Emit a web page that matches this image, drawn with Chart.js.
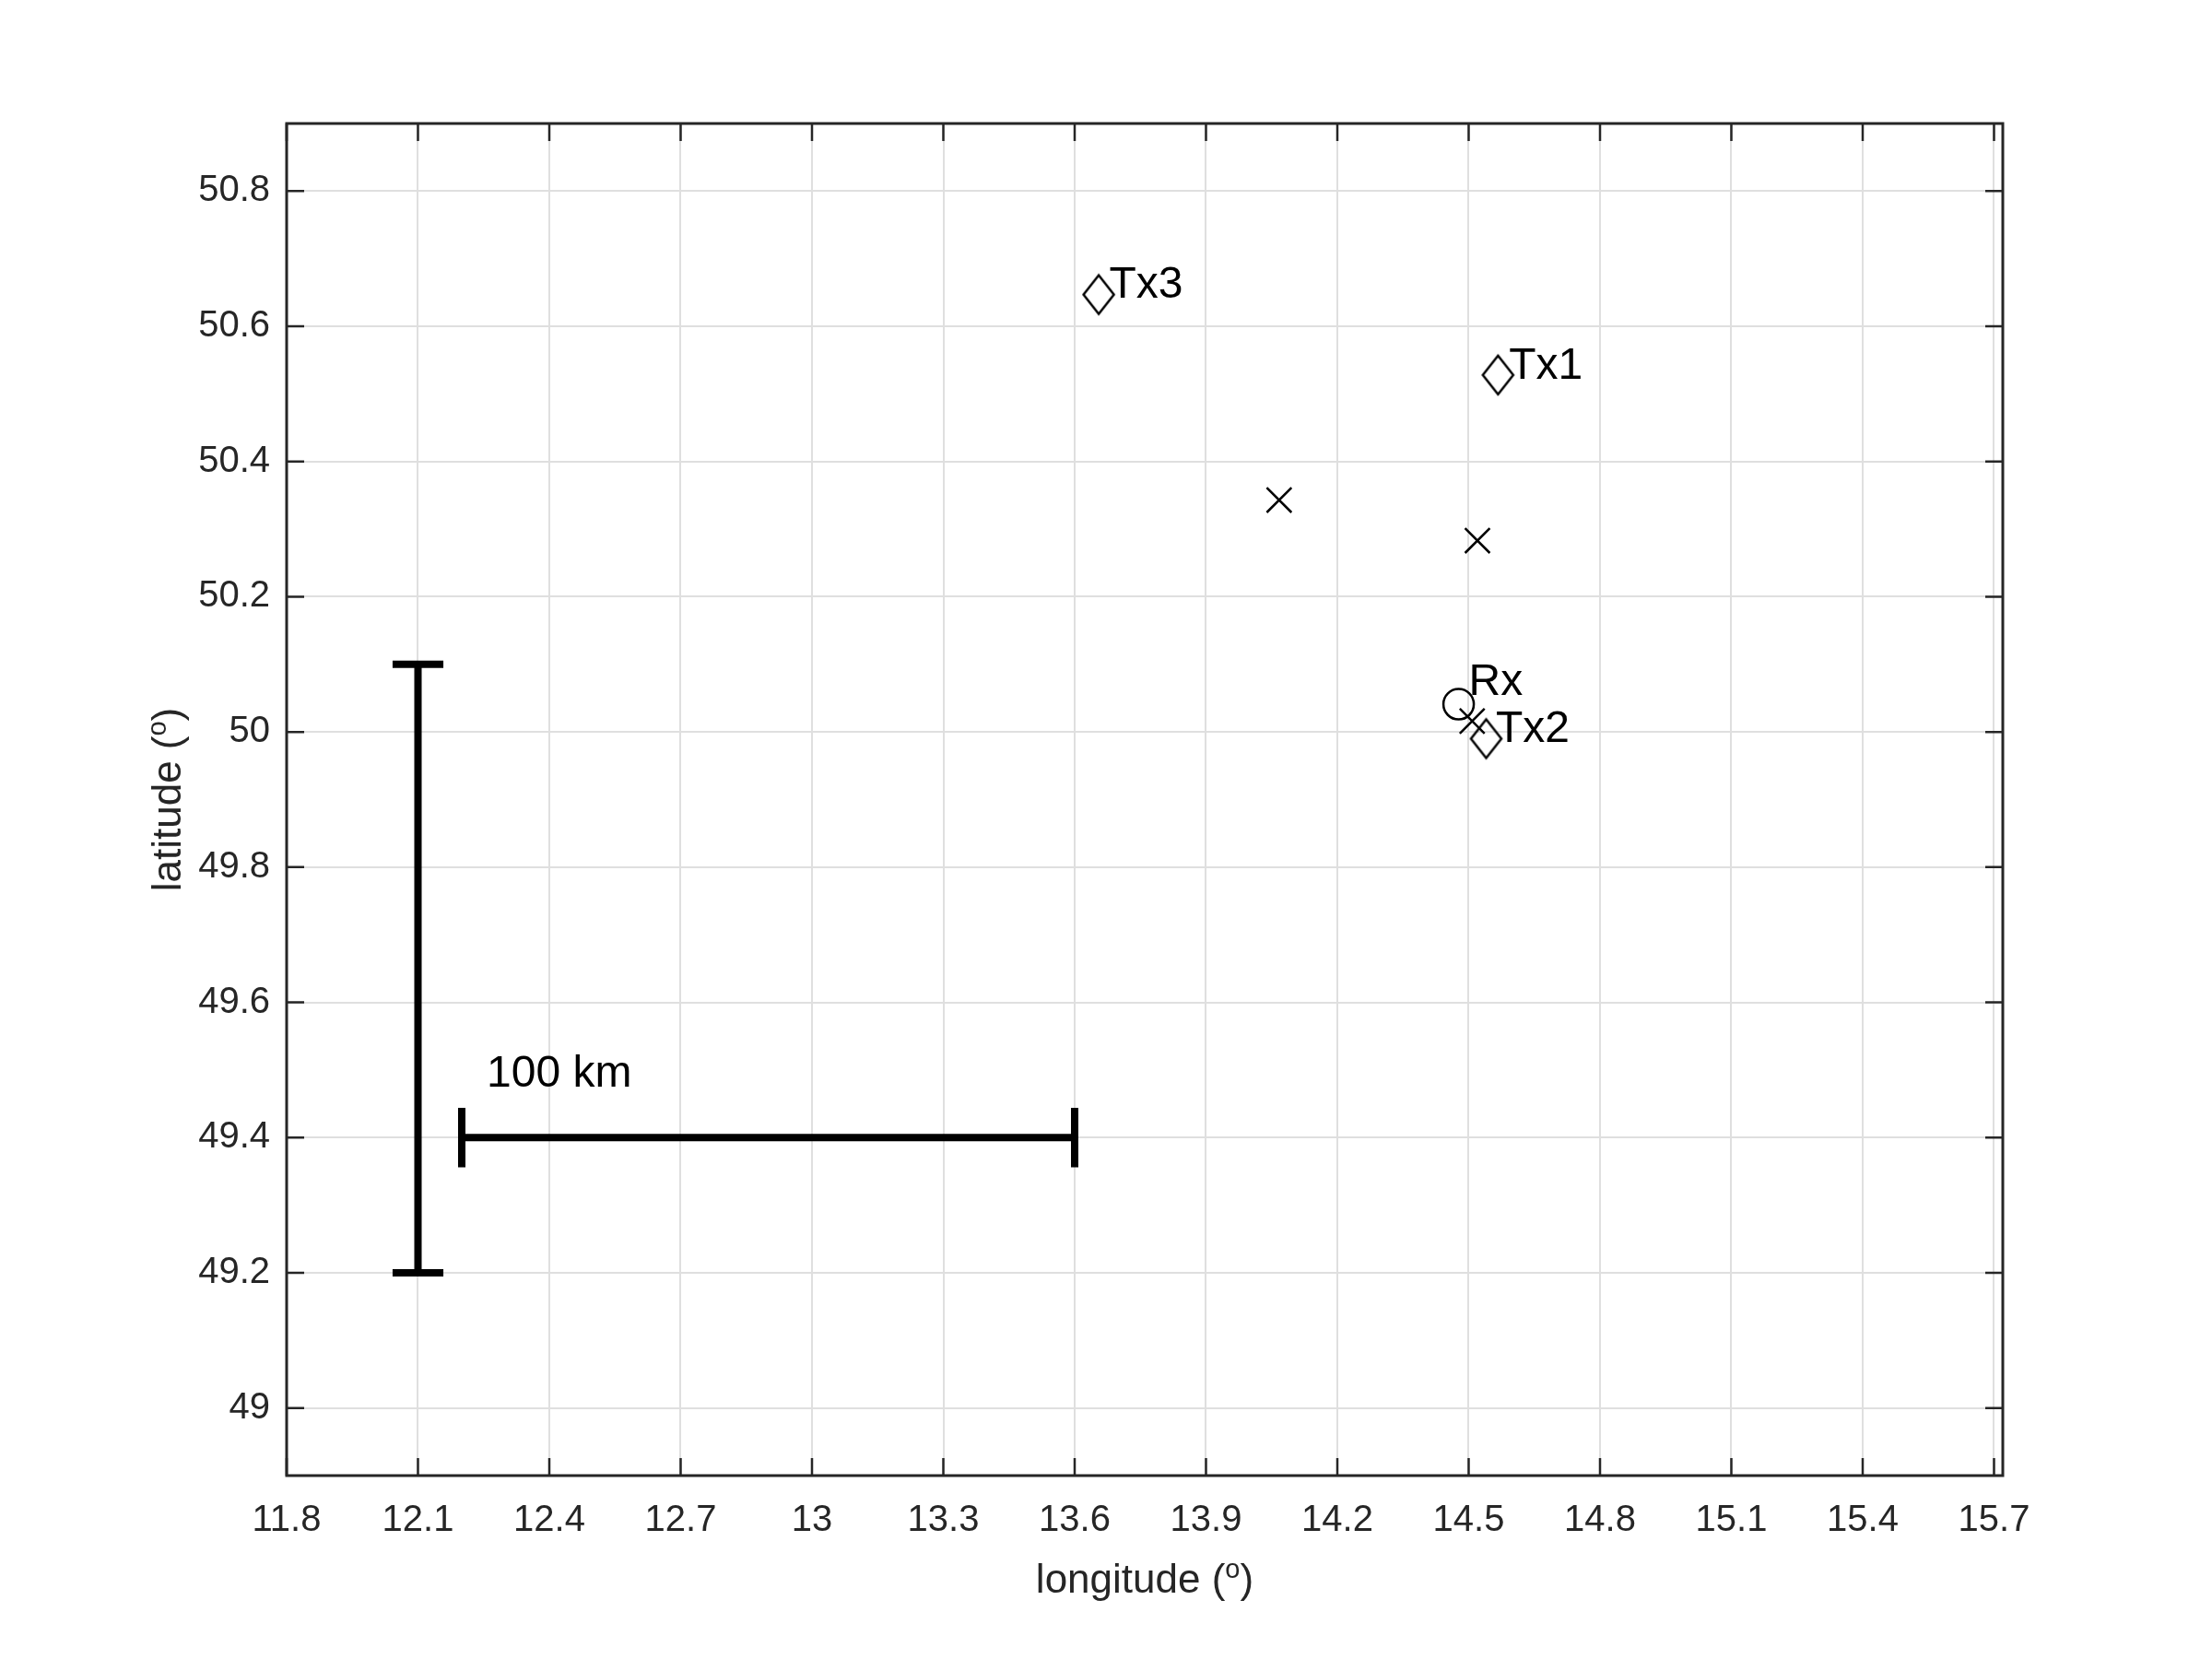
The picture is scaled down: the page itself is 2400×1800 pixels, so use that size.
<!DOCTYPE html>
<html>
<head>
<meta charset="utf-8">
<script src="https://cdn.jsdelivr.net/npm/chart.js@4.4.0/dist/chart.umd.min.js"></script>
<style>
  body { margin: 0; background: #fff; }
  #wrap { width: 2400px; height: 1800px; }
</style>
</head>
<body>
<div id="wrap"><canvas id="myChart" width="2400" height="1800"></canvas></div>
<script>
// transmitters, receiver, crossings (lon / lat in degrees)
const txLon = [14.567, 14.540, 13.655];
const txLat = [50.528, 49.990, 50.647];
const rxLon = [14.477];
const rxLat = [50.041];
const crossLon = [14.067, 14.520, 14.508];
const crossLat = [50.343, 50.283, 50.016];

// text labels
const labelNames = ['Tx1', 'Tx2', 'Tx3', 'Rx', '100 km'];
const labelLon = [14.592, 14.562, 13.679, 14.500, 12.257];
const labelLat = [50.523, 49.985, 50.642, 50.055, 49.476];

// 100 km scale bars
const barLonV = 12.1;
const barLatV = [49.2, 50.1];
const barLatH = 49.4;
const barLonH = [12.2, 13.6];
const capHalfLon = 0.058;
const capHalfLat = 0.044;

const xTicks = [11.8, 12.1, 12.4, 12.7, 13, 13.3, 13.6, 13.9, 14.2, 14.5, 14.8, 15.1, 15.4, 15.7];
const xTickLabels = ['11.8', '12.1', '12.4', '12.7', '13', '13.3', '13.6', '13.9', '14.2', '14.5', '14.8', '15.1', '15.4', '15.7'];
const yTicks = [49, 49.2, 49.4, 49.6, 49.8, 50, 50.2, 50.4, 50.6, 50.8];
const yTickLabels = ['49', '49.2', '49.4', '49.6', '49.8', '50', '50.2', '50.4', '50.6', '50.8'];

const FONT = "'Liberation Sans', Arial, Helvetica, sans-serif";
const AXCOL = '#262626';

function pts(xs, ys) {
    return xs.map((v, i) => ({ x: v, y: ys[i] }));
}

// matlab style diamond, taller than wide
function makeDiamond() {
    var c = document.createElement('canvas');
    c.width = 38;
    c.height = 48;
    var g = c.getContext('2d');
    g.strokeStyle = '#000';
    g.lineWidth = 2.5;
    g.beginPath();
    g.moveTo(19, 3);
    g.lineTo(35.5, 24);
    g.lineTo(19, 45);
    g.lineTo(2.5, 24);
    g.closePath();
    g.stroke();
    return c;
}

function barSet(data) {
    return {
        data: data,
        showLine: true,
        borderColor: '#000',
        borderWidth: 8,
        borderCapStyle: 'butt',
        pointRadius: 0,
        fill: false
    };
}

const frame = {
    id: 'frame',
    afterDraw(chart) {
        const ctx = chart.ctx;
        const a = chart.chartArea;
        const xs = chart.scales.x;
        const ys = chart.scales.y;
        ctx.save();
        ctx.strokeStyle = AXCOL;
        ctx.lineWidth = 2.5;
        ctx.beginPath();
        xTicks.forEach(v => {
            const px = xs.getPixelForValue(v);
            ctx.moveTo(px, a.bottom);
            ctx.lineTo(px, a.bottom - 19);
            ctx.moveTo(px, a.top);
            ctx.lineTo(px, a.top + 19);
        });
        yTicks.forEach(v => {
            const py = ys.getPixelForValue(v);
            ctx.moveTo(a.left, py);
            ctx.lineTo(a.left + 19, py);
            ctx.moveTo(a.right, py);
            ctx.lineTo(a.right - 19, py);
        });
        ctx.stroke();
        ctx.lineWidth = 3;
        ctx.strokeRect(a.left, a.top, a.right - a.left, a.bottom - a.top);

        // text labels
        ctx.fillStyle = '#000';
        ctx.font = '48px ' + FONT;
        ctx.textAlign = 'left';
        ctx.textBaseline = 'alphabetic';
        labelNames.forEach((t, i) => {
            ctx.fillText(t, xs.getPixelForValue(labelLon[i]), ys.getPixelForValue(labelLat[i]));
        });

        // axis titles with superscript o
        drawTitle(ctx, 'longitude (', (a.left + a.right) / 2, 1728, 0);
        drawTitle(ctx, 'latitude (', 196, (a.top + a.bottom) / 2, -Math.PI / 2);
        ctx.restore();
    }
};

function drawTitle(ctx, main, cx, cy, rot) {
    ctx.save();
    ctx.translate(cx, cy);
    ctx.rotate(rot);
    ctx.fillStyle = AXCOL;
    ctx.textAlign = 'left';
    ctx.textBaseline = 'alphabetic';
    ctx.font = '44px ' + FONT;
    const w1 = ctx.measureText(main).width;
    const w3 = ctx.measureText(')').width;
    ctx.font = '29px ' + FONT;
    const w2 = ctx.measureText('o').width;
    const total = w1 + w2 + w3;
    let x = -total / 2;
    ctx.font = '44px ' + FONT;
    ctx.fillText(main, x, 0);
    x += w1;
    ctx.font = '29px ' + FONT;
    ctx.fillText('o', x, -16);
    x += w2;
    ctx.font = '44px ' + FONT;
    ctx.fillText(')', x, 0);
    ctx.restore();
}

const data = {
    datasets: [
        barSet([{ x: barLonV, y: barLatV[0] }, { x: barLonV, y: barLatV[1] }]),
        barSet([{ x: barLonV - capHalfLon, y: barLatV[1] }, { x: barLonV + capHalfLon, y: barLatV[1] }]),
        barSet([{ x: barLonV - capHalfLon, y: barLatV[0] }, { x: barLonV + capHalfLon, y: barLatV[0] }]),
        barSet([{ x: barLonH[0], y: barLatH }, { x: barLonH[1], y: barLatH }]),
        barSet([{ x: barLonH[0], y: barLatH - capHalfLat }, { x: barLonH[0], y: barLatH + capHalfLat }]),
        barSet([{ x: barLonH[1], y: barLatH - capHalfLat }, { x: barLonH[1], y: barLatH + capHalfLat }]),
        {
            label: 'Rx',
            data: pts(rxLon, rxLat),
            pointStyle: 'circle',
            pointRadius: 16.5,
            borderWidth: 2.5,
            borderColor: '#000',
            backgroundColor: 'rgba(0,0,0,0)'
        },
        {
            label: 'cross',
            data: pts(crossLon, crossLat),
            pointStyle: 'crossRot',
            pointRadius: 19,
            borderWidth: 2.5,
            borderColor: '#000',
            backgroundColor: 'rgba(0,0,0,0)'
        },
        {
            label: 'Tx',
            data: pts(txLon, txLat),
            pointStyle: makeDiamond(),
            pointRadius: 20,
            borderColor: '#000',
            backgroundColor: 'rgba(0,0,0,0)'
        }
    ]
};

const config = {
    type: 'scatter',
    data: data,
    options: {
        responsive: false,
        animation: false,
        devicePixelRatio: 1,
        layout: { padding: { left: 0, top: 134, right: 227, bottom: 0 } },
        plugins: { legend: { display: false }, tooltip: { enabled: false } },
        scales: {
            x: {
                type: 'linear',
                min: 11.8,
                max: 15.72,
                afterBuildTicks: s => { s.ticks = xTicks.map(v => ({ value: v })); },
                afterFit: s => { s.height = 199; },
                grid: { color: '#dfdfdf', lineWidth: 2, drawTicks: false },
                border: { display: false },
                ticks: {
                    padding: 25,
                    maxRotation: 0,
                    autoSkip: false,
                    color: AXCOL,
                    font: { family: FONT, size: 40 },
                    callback: (v, i) => xTickLabels[i]
                }
            },
            y: {
                type: 'linear',
                min: 48.9,
                max: 50.9,
                afterBuildTicks: s => { s.ticks = yTicks.map(v => ({ value: v })); },
                afterFit: s => { s.width = 311; },
                grid: { color: '#dfdfdf', lineWidth: 2, drawTicks: false },
                border: { display: false },
                ticks: {
                    padding: 18,
                    autoSkip: false,
                    color: AXCOL,
                    font: { family: FONT, size: 40 },
                    callback: (v, i) => yTickLabels[i]
                }
            }
        }
    },
    plugins: [frame]
};

let myChart = new Chart(document.getElementById('myChart'), config);
</script>
</body>
</html>
